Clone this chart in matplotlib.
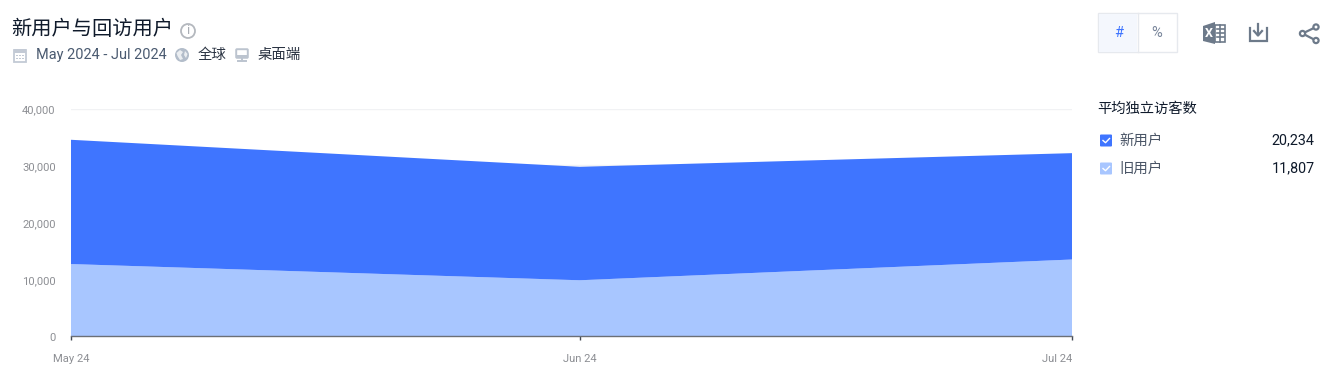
import matplotlib
matplotlib.use("Agg")
import matplotlib.pyplot as plt
from matplotlib.patches import Rectangle, Circle, FancyBboxPatch, Polygon
from matplotlib.lines import Line2D
from matplotlib.transforms import ScaledTranslation

plt.rcParams['font.family'] = ['Roboto', 'Noto Sans CJK SC', 'DejaVu Sans']

months = ["May 24", "Jun 24", "Jul 24"]
month_dates = ["2024-05-01", "2024-06-01", "2024-07-01"]
returning_users = [12650, 9800, 13450]
new_users = [21850, 19950, 18700]
y_ticks = [0, 10000, 20000, 30000, 40000]
title = "新用户与回访用户"
date_range = "May 2024 - Jul 2024"
region = "全球"
device = "桌面端"
legend_title = "平均独立访客数"
legend_names = ["新用户", "旧用户"]
legend_values = ["20,234", "11,807"]
BLUE = "#3f75ff"
LIGHT = "#a8c6ff"
W, H = 1339, 378

fig = plt.figure(figsize=(W / 100, H / 100), dpi=100, facecolor="white")
ax = fig.add_axes([71 / W, 1 - 336 / H, (1072 - 71) / W, 227.5 / H])
x = matplotlib.dates.datestr2num(month_dates)
ax.stackplot(x, returning_users, new_users, colors=[LIGHT, BLUE], linewidth=0, zorder=2)
ax.set_xlim(x[0], x[-1])
ax.set_ylim(0, 40000)
ax.set_yticks(y_ticks)
ax.set_yticklabels([f"{v:,}" for v in y_ticks], fontsize=8.1, color="#8d8f94")
ax.set_xticks(x)
ax.set_xticklabels(months, fontsize=8.1, color="#8d8f94")
labels = ax.get_xticklabels()
labels[0].set_ha("center")
labels[2].set_ha("right")
ax.tick_params(axis="y", length=0, pad=11)
shift = ScaledTranslation(0, -1 / 100, fig.dpi_scale_trans)
for lab in ax.get_yticklabels():
    lab.set_transform(lab.get_transform() + shift)
ax.tick_params(axis="x", length=3, width=1, color="#444a55", pad=10)
ax.grid(axis="y", color="#f1f2f4", linewidth=1, zorder=1)
ax.set_axisbelow(True)
for s in ["top", "left", "right"]:
    ax.spines[s].set_visible(False)
ax.spines["bottom"].set_color("#6b6f76")
ax.spines["bottom"].set_linewidth(1)

# Pixel-coordinate overlay for header, icons and legend
ov = fig.add_axes([0, 0, 1, 1], facecolor="none")
ov.set_xlim(0, W)
ov.set_ylim(H, 0)
ov.axis("off")

DARK = "#2a3342"
ICON = "#6d7a8a"
ov.text(11, 29, title, fontsize=14.6, color="#0f1a2b", va="center", ha="left")
ov.add_patch(Circle((188, 31), 7, fill=False, ec="#b4b8be", lw=1.3))
ov.text(188, 31, "i", fontsize=9.5, color="#a9adb4", ha="center", va="center")

# calendar
ov.add_patch(Rectangle((14, 50), 12, 11.5, fc="none", ec="#c3cad5", lw=1.3))
ov.add_patch(Rectangle((14, 49), 12, 4, fc="#c3cad5", ec="none"))
for xx in (17, 20, 23):
    for yy in (55.5, 58.5):
        ov.add_patch(Rectangle((xx - .7, yy - .7), 1.6, 1.6, fc="#c3cad5", ec="none"))
ov.text(36, 54.5, date_range, fontsize=10.45, color="#4a5a70", va="center", ha="left")
# globe
ov.add_patch(Circle((182, 55), 7, fc="#b3bdca", ec="none"))
ov.add_patch(Polygon([(176.5, 53), (180, 50), (183, 52), (181, 55), (183, 59), (180, 60), (177.5, 56)], fc="white", ec="none", alpha=.75))
ov.add_patch(Polygon([(185, 51), (187.5, 54), (186, 58), (184, 55)], fc="white", ec="none", alpha=.75))
ov.text(197.5, 54.5, region, fontsize=10.4, color=DARK, va="center", ha="left")
# desktop
ov.add_patch(FancyBboxPatch((237, 50), 10, 7, boxstyle="round,pad=0.8", fc="none", ec="#bcc4cf", lw=1.4))
ov.add_patch(Rectangle((237, 54.5), 10, 3, fc="#bcc4cf", ec="none"))
ov.add_line(Line2D([242, 242], [58, 61], color="#bcc4cf", lw=1.4))
ov.add_line(Line2D([238, 246], [61, 61], color="#bcc4cf", lw=1.4))
ov.text(257.5, 54.5, device, fontsize=10.4, color=DARK, va="center", ha="left")

# toggle
ov.add_patch(Rectangle((1098, 13), 78.5, 39, fc="white", ec="#e6e9ee", lw=1))
ov.add_patch(Rectangle((1098.5, 13.5), 38.5, 38, fc="#f4f7fd", ec="none"))
ov.add_line(Line2D([1137.5, 1137.5], [13, 52], color="#e6e9ee", lw=1))
ov.text(1118.5, 33, "#", fontsize=10.5, color=BLUE, ha="center", va="center")
ov.text(1157, 33, "%", fontsize=10.5, color="#78859a", ha="center", va="center")

# excel icon
ov.add_patch(Polygon([(1203, 26), (1215, 22), (1215, 44), (1203, 41)], fc=ICON, ec="none"))
ov.text(1209, 33.5, "X", fontsize=9, color="white", ha="center", va="center", fontweight="bold")
ov.add_patch(Rectangle((1215, 25), 9.5, 17, fc="none", ec=ICON, lw=1.2))
for yy in (29, 33, 37):
    ov.add_line(Line2D([1217, 1224], [yy, yy], color=ICON, lw=1.2))
ov.add_line(Line2D([1219.5, 1219.5], [25, 42], color=ICON, lw=1.2))

# download icon
ov.add_line(Line2D([1250, 1250, 1266.5, 1266.5], [28, 41, 41, 28], color=ICON, lw=1.6, solid_joinstyle="miter"))
ov.add_line(Line2D([1258, 1258], [24, 35], color=ICON, lw=1.6))
ov.add_line(Line2D([1254, 1258, 1262], [31, 35.5, 31], color=ICON, lw=1.6))

# share icon
pts = [(1302.5, 33.5), (1316, 27), (1316, 40.5)]
ov.add_line(Line2D([pts[1][0], pts[0][0], pts[2][0]], [pts[1][1], pts[0][1], pts[2][1]], color=ICON, lw=1.6))
for p in pts:
    ov.add_patch(Circle(p, 2.6, fc="white", ec=ICON, lw=1.6, zorder=3))

# legend
ov.text(1097.5, 108.5, legend_title, fontsize=10.3, color="#0f1a2b", va="center", ha="left")
for yy, c, name, val in zip([140.5, 168.5], [BLUE, LIGHT], legend_names, legend_values):
    ov.add_patch(FancyBboxPatch((1101, yy - 5), 10, 10, boxstyle="round,pad=1", fc=c, ec="none"))
    ov.add_line(Line2D([1103, 1105.5, 1109.5], [yy, yy + 2.2, yy - 2], color="white", lw=1))
    ov.text(1119.5, yy, name, fontsize=10.4, color="#4a5566", va="center", ha="left")
    ov.text(1314.5, yy, val, fontsize=10.4, color="#0f1a2b", va="center", ha="right")

fig.savefig("out.png", dpi=100)
